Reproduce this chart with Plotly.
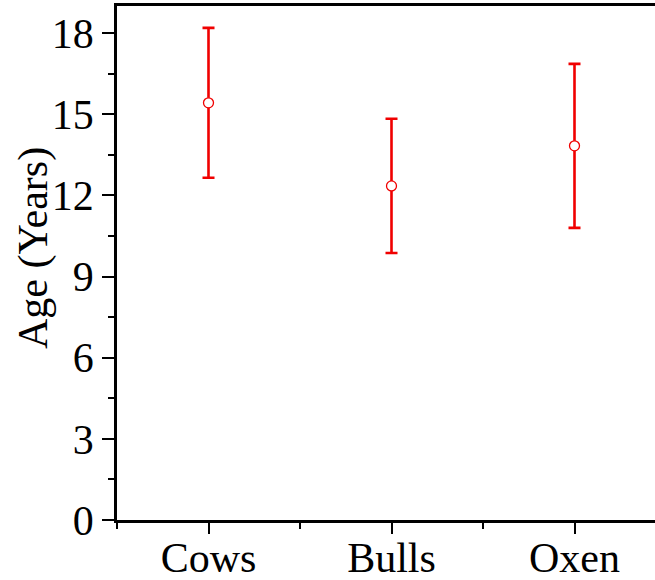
import plotly.graph_objects as go

# Mean age by cattle group with error bars
groups = ["Cows", "Bulls", "Oxen"]
group_pos = [1, 2, 3]
mean_age = [15.42, 12.35, 13.83]
age_err = [2.77, 2.48, 3.03]
y_ticks = [0, 3, 6, 9, 12, 15, 18]

RED = "#f00000"
FONT = "Liberation Serif, Times New Roman, serif"

fig = go.Figure(
    go.Scatter(
        x=group_pos,
        y=mean_age,
        mode="markers",
        marker=dict(symbol="circle", size=10, color="white",
                    line=dict(color=RED, width=1.3)),
        error_y=dict(type="data", array=age_err, visible=True,
                     color=RED, thickness=2.6, width=6),
        showlegend=False,
    )
)

W, H = 655, 580
L, T, B = 117, 6, 60
plot_w = W - L
plot_h = H - T - B

fig.update_layout(
    width=W, height=H,
    margin=dict(l=L, r=0, t=T, b=B, pad=0),
    paper_bgcolor="white", plot_bgcolor="white",
    font=dict(family=FONT, size=42, color="black"),
)

fig.update_xaxes(
    range=[0.5, 0.5 + plot_w / 183.0],
    tickvals=group_pos, ticktext=groups,
    ticks="outside", ticklen=11, tickwidth=2, tickcolor="black",
    minor=dict(ticks="outside", ticklen=6, tickwidth=2, tickcolor="black",
               tick0=0.5, dtick=1),
    showline=True, linecolor="black", linewidth=2.5, mirror=True,
    showgrid=False, zeroline=False, automargin=False,
    ticklabelstandoff=-12,
    tickfont=dict(family=FONT, size=42),
)

fig.update_yaxes(
    range=[0, 19],
    tickvals=y_ticks,
    ticks="outside", ticklen=12, tickwidth=2, tickcolor="black",
    minor=dict(ticks="outside", ticklen=6, tickwidth=2, tickcolor="black",
               tick0=0, dtick=1.5),
    showline=True, linecolor="black", linewidth=2.5,
    showgrid=False, zeroline=False, automargin=False,
    tickfont=dict(family=FONT, size=42),
)

# Y-axis title
fig.add_annotation(
    text="Age (Years)", textangle=-90,
    xref="paper", yref="paper",
    x=(33 - L) / plot_w, y=(H - B - 248) / plot_h,
    xanchor="center", yanchor="middle", showarrow=False,
    font=dict(family=FONT, size=42, color="black"),
)

fig.write_html("out.html")
